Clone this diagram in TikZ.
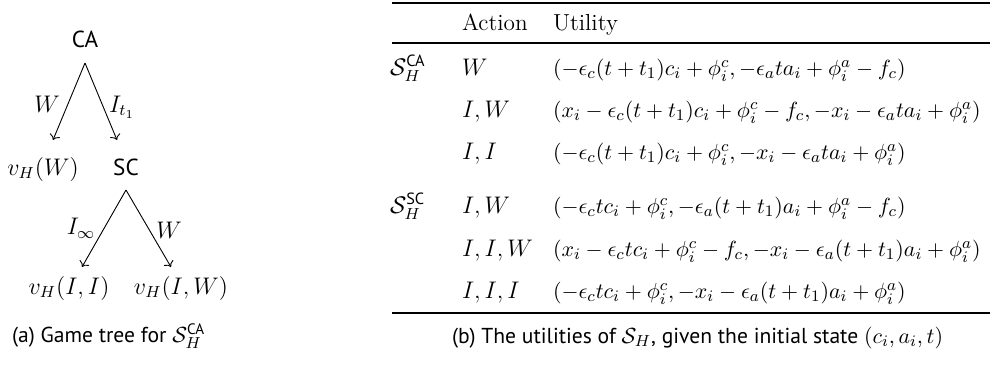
\documentclass[tikz,border=0pt]{standalone}
\usepackage{amsmath}
\usepackage{fontspec}
\newfontfamily\capsans{PT Sans}
\usetikzlibrary{calc,arrows.meta}
\begin{document}
\begin{tikzpicture}[x=0.5pt,y=-0.5pt,
  every node/.style={inner sep=0pt,outer sep=0pt},
  tm/.style={font=\fontsize{11.6}{14}\selectfont},
  sf/.style={font=\fontsize{11.6}{14}\selectfont\capsans},
  capt/.style={font=\fontsize{10.8}{13}\selectfont\capsans,anchor=base west},
  cell/.style={tm,anchor=base west},
  ucell/.style={font=\fontsize{11.2}{13}\selectfont,anchor=base west},
  arr/.style={->,line width=0.45pt},
  toprule/.style={line width=1pt},
  midrule/.style={line width=0.55pt}]
\useasboundingbox (0,0) rectangle (990,364);

% ---------- (a) game tree ----------
\node[sf,anchor=base] (CA)  at (85,47)   {CA};
\node[tm,anchor=base] (vW)  at (43,175)  {$v_H(W)$};
\node[sf,anchor=base] (SC)  at (126,175) {SC};
\node[tm,anchor=base] (vII) at (69,294)  {$v_H(I,I)$};
\node[tm,anchor=base] (vIW) at (181,294) {$v_H(I,W)$};

\draw[arr] ($(CA.base)+(0,16)$) -- ($(vW.base)+(10,-35)$);
\draw[arr] ($(CA.base)+(0,16)$) -- ($(SC.base)+(-9,-35)$);
\draw[arr] ($(SC.base)+(0,15)$) -- ($(vII.base)+(13,-27)$);
\draw[arr] ($(SC.base)+(0,15)$) -- ($(vIW.base)+(-10,-27)$);

\node[tm] (lW1) at (47,104)  {$W$};
\node[tm] (lI1) at (122,107) {$I_{t_1}$};
\node[tm] (lI2) at (81,228)  {$I_\infty$};
\node[tm] (lW2) at (169,230) {$W$};

\node[capt] (capa) at (12,342)
  {(a) Game tree for $\mathcal{S}_H^{\text{\capsans CA}}$};

% ---------- (b) table ----------
\draw[toprule] (392,3) -- (990,3);
\node[cell] (hA) at (462,31) {Action};
\node[cell] (hU) at (553,31) {Utility};
\draw[midrule] (392,43) -- (990,43);

\node[cell] (gCA) at (390,75) {$\mathcal{S}_H^{\text{\capsans CA}}$};
\node[cell] (a1) at (462,75)  {$W$};
\node[ucell] (u1) at (553,75)  {$(-\epsilon_c(t+t_1)c_i+\phi_i^c, -\epsilon_a t a_i+\phi_i^a-f_c)$};
\node[cell] (a2) at (462,117) {$I,W$};
\node[ucell] (u2) at (553,117) {$(x_i-\epsilon_c(t+t_1)c_i+\phi_i^c-f_c, -x_i-\epsilon_a t a_i+\phi_i^a)$};
\node[cell] (a3) at (462,159) {$I,I$};
\node[ucell] (u3) at (553,159) {$(-\epsilon_c(t+t_1)c_i+\phi_i^c, -x_i-\epsilon_a t a_i+\phi_i^a)$};

\node[cell] (gSC) at (390,213) {$\mathcal{S}_H^{\text{\capsans SC}}$};
\node[cell] (a4) at (462,213) {$I,W$};
\node[ucell] (u4) at (553,213) {$(-\epsilon_c t c_i+\phi_i^c, -\epsilon_a(t+t_1)a_i+\phi_i^a-f_c)$};
\node[cell] (a5) at (462,256) {$I,I,W$};
\node[ucell] (u5) at (553,256) {$(x_i-\epsilon_c t c_i+\phi_i^c-f_c, -x_i-\epsilon_a(t+t_1)a_i+\phi_i^a)$};
\node[cell] (a6) at (462,298) {$I,I,I$};
\node[ucell] (u6) at (553,298) {$(-\epsilon_c t c_i+\phi_i^c, -x_i-\epsilon_a(t+t_1)a_i+\phi_i^a)$};

\draw[toprule] (392,313) -- (990,313);

\node[capt] (capb) at (452,343)
  {(b) The utilities of $\mathcal{S}_H$, given the initial state $(c_i,a_i,t)$};
\end{tikzpicture}
\end{document}
